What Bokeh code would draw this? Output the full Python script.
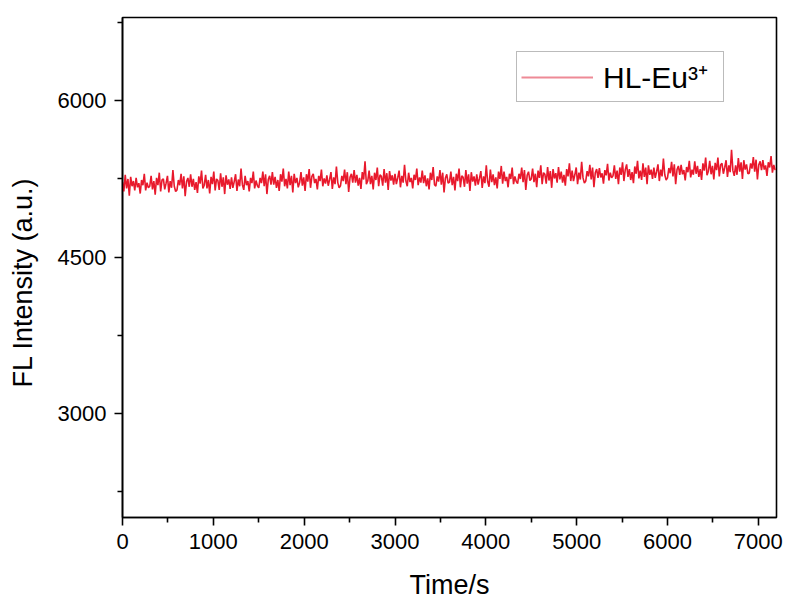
from bokeh.plotting import figure
from bokeh.models import Legend, LegendItem, Range1d, FixedTicker
from bokeh.embed import file_html
from bokeh.resources import INLINE

# Time axis sampling (s), one reading every 15 s
time_s = list(range(0, 7200, 15))

# FL intensity (a.u.), 480 samples
intensity = [
    5220, 5130, 5290, 5160, 5250, 5090, 5270, 5180, 5230, 5140,
    5260, 5170, 5210, 5110, 5240, 5190, 5300, 5140, 5215, 5165,
    5180, 5280, 5150, 5230, 5100, 5260, 5190, 5310, 5130, 5240,
    5250, 5150, 5210, 5280, 5120, 5230, 5165, 5335, 5180, 5130,
    5145, 5240, 5190, 5300, 5160, 5275, 5085, 5225, 5260, 5175,
    5295, 5175, 5250, 5145, 5220, 5115, 5275, 5205, 5330, 5160,
    5190, 5290, 5160, 5240, 5110, 5270, 5200, 5320, 5140, 5250,
    5235, 5145, 5305, 5175, 5265, 5105, 5285, 5195, 5245, 5155,
    5265, 5165, 5225, 5295, 5135, 5245, 5180, 5350, 5195, 5145,
    5280, 5190, 5230, 5130, 5260, 5210, 5320, 5160, 5235, 5185,
    5165, 5260, 5210, 5320, 5180, 5295, 5105, 5245, 5280, 5195,
    5315, 5195, 5270, 5165, 5240, 5135, 5295, 5225, 5350, 5180,
    5250, 5160, 5320, 5190, 5280, 5120, 5300, 5210, 5260, 5170,
    5215, 5315, 5185, 5265, 5135, 5295, 5225, 5345, 5165, 5275,
    5300, 5210, 5250, 5150, 5280, 5230, 5340, 5180, 5255, 5205,
    5285, 5185, 5245, 5315, 5155, 5265, 5200, 5370, 5215, 5165,
    5185, 5280, 5230, 5340, 5200, 5315, 5125, 5265, 5300, 5215,
    5335, 5215, 5290, 5185, 5260, 5155, 5315, 5245, 5420, 5200,
    5230, 5330, 5200, 5280, 5150, 5310, 5240, 5360, 5180, 5290,
    5275, 5185, 5345, 5215, 5305, 5145, 5325, 5235, 5285, 5195,
    5300, 5200, 5260, 5330, 5170, 5280, 5215, 5385, 5230, 5180,
    5310, 5220, 5260, 5160, 5290, 5240, 5350, 5190, 5265, 5215,
    5330, 5210, 5285, 5180, 5255, 5150, 5310, 5240, 5365, 5195,
    5180, 5275, 5225, 5335, 5195, 5310, 5120, 5260, 5295, 5210,
    5220, 5320, 5190, 5270, 5140, 5300, 5230, 5350, 5170, 5280,
    5265, 5175, 5335, 5205, 5295, 5135, 5315, 5225, 5275, 5185,
    5295, 5195, 5255, 5325, 5165, 5275, 5210, 5380, 5225, 5175,
    5340, 5220, 5295, 5190, 5265, 5160, 5320, 5250, 5375, 5205,
    5320, 5230, 5270, 5170, 5300, 5250, 5360, 5200, 5275, 5225,
    5205, 5300, 5250, 5360, 5220, 5335, 5145, 5285, 5320, 5235,
    5250, 5350, 5220, 5300, 5170, 5330, 5260, 5380, 5200, 5310,
    5295, 5205, 5365, 5235, 5325, 5165, 5345, 5255, 5305, 5215,
    5365, 5245, 5320, 5215, 5290, 5185, 5345, 5275, 5400, 5230,
    5330, 5230, 5290, 5360, 5200, 5310, 5245, 5415, 5260, 5210,
    5230, 5325, 5275, 5385, 5245, 5360, 5170, 5310, 5345, 5260,
    5355, 5265, 5305, 5205, 5335, 5285, 5395, 5235, 5310, 5260,
    5280, 5380, 5250, 5330, 5200, 5360, 5290, 5410, 5230, 5340,
    5390, 5270, 5345, 5240, 5315, 5210, 5370, 5300, 5425, 5255,
    5330, 5240, 5400, 5270, 5360, 5200, 5380, 5290, 5340, 5250,
    5360, 5260, 5320, 5390, 5230, 5340, 5275, 5445, 5290, 5240,
    5260, 5355, 5305, 5415, 5275, 5390, 5200, 5340, 5375, 5290,
    5385, 5295, 5335, 5235, 5365, 5315, 5425, 5265, 5340, 5290,
    5420, 5300, 5375, 5270, 5345, 5240, 5400, 5330, 5455, 5285,
    5325, 5425, 5295, 5375, 5245, 5405, 5335, 5455, 5275, 5385,
    5400, 5300, 5360, 5430, 5270, 5380, 5315, 5530, 5330, 5280,
    5380, 5290, 5450, 5320, 5410, 5250, 5430, 5340, 5390, 5300,
    5305, 5400, 5350, 5460, 5320, 5435, 5245, 5385, 5420, 5335,
    5430, 5340, 5380, 5280, 5410, 5360, 5470, 5310, 5385, 5335,
]

x_ticks = [0, 1000, 2000, 3000, 4000, 5000, 6000, 7000]
x_minor = [500, 1500, 2500, 3500, 4500, 5500, 6500]
y_ticks = [3000, 4500, 6000]
y_minor = [2250, 3750, 5250, 6750]

series_label = "HL-Eu\u00b3\u207a"
line_color = "#E8192C"
legend_line_color = "#EE8A96"
FONT = "Liberation Sans"

p = figure(width=788, height=603, output_backend="svg", toolbar_location=None,
           x_range=Range1d(0, 7200), y_range=Range1d(2000, 6800),
           min_border_left=122, min_border_right=12, min_border_top=17, min_border_bottom=86)

p.line(time_s, intensity, line_color=line_color, line_width=1.6)
# legend-only glyph (one empty polyline)
r_leg = p.multi_line(xs=[[]], ys=[[]], line_color=legend_line_color, line_width=1.8)

p.grid.visible = False
p.background_fill_color = "white"
p.border_fill_color = "white"
p.outline_line_color = "black"
p.outline_line_width = 1.6

for ax in (p.xaxis, p.yaxis):
    ax.axis_line_width = 1.6
    ax.axis_line_color = "black"
    ax.major_tick_line_width = 1.6
    ax.minor_tick_line_width = 1.6
    ax.major_tick_out = 8
    ax.major_tick_in = 0
    ax.minor_tick_out = 5
    ax.minor_tick_in = 0
    ax.major_label_text_font = FONT
    ax.major_label_text_font_size = "22px"
    ax.major_label_text_color = "black"
    ax.axis_label_text_font = FONT
    ax.axis_label_text_font_size = "27px"
    ax.axis_label_text_font_style = "normal"
    ax.axis_label_text_color = "black"

p.xaxis.ticker = FixedTicker(ticks=x_ticks, minor_ticks=x_minor)
p.yaxis.ticker = FixedTicker(ticks=y_ticks, minor_ticks=y_minor)
p.xaxis.axis_label = "Time/s"
p.yaxis.axis_label = "FL Intensity (a.u.)" + "\u00a0" * 4
p.xaxis.major_label_standoff = 8
p.yaxis.major_label_standoff = 8
p.xaxis.axis_label_standoff = 18
p.yaxis.axis_label_standoff = 17

legend = Legend(items=[LegendItem(label=series_label, renderers=[r_leg])],
                location=(394, 415))
legend.border_line_color = "#777777"
legend.border_line_width = 1
legend.label_text_font = FONT
legend.label_text_font_size = "30px"
legend.label_text_color = "black"
legend.glyph_width = 72
legend.glyph_height = 20
legend.label_width = 116
legend.margin = 0
legend.padding = 4
legend.spacing = 0
legend.label_standoff = 10
p.add_layout(legend)

open("out.html", "w").write(file_html(p, INLINE))
